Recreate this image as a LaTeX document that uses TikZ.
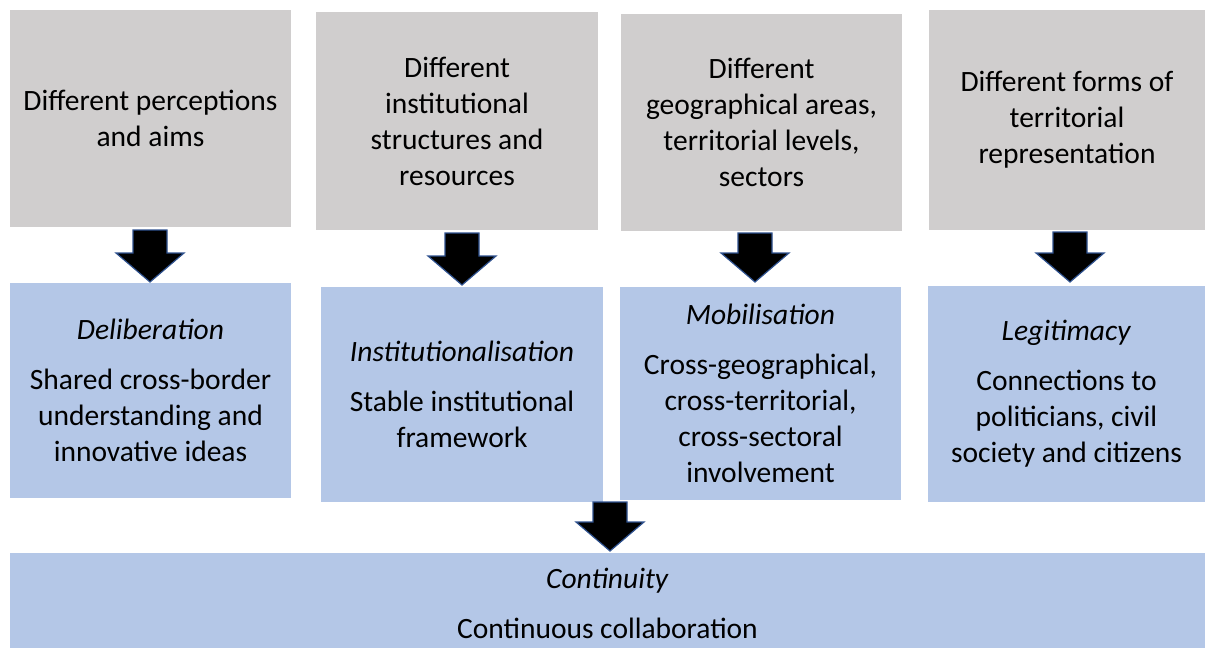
\documentclass[tikz,border=0pt]{standalone}
\usepackage{fontspec}
\setmainfont{Carlito}
\definecolor{boxgray}{HTML}{D0CECE}
\definecolor{boxblue}{HTML}{B4C7E7}
\definecolor{arrowline}{HTML}{2F528F}
\newcommand{\downarr}[3]{% x, ytop, ybottom
  \draw[arrowstyle] (#1-17,#2) -- (#1+17,#2) -- (#1+17,#3-29) -- (#1+34,#3-29) -- (#1,#3) -- (#1-34,#3-29) -- (#1-17,#3-29) -- cycle;}
\begin{document}
\begin{tikzpicture}[x=1pt,y=-1pt,
  box/.style={anchor=north west,inner sep=0pt,outer sep=0pt,align=center,
    font=\fontsize{29.5}{36}\selectfont},
  graybox/.style={box,fill=boxgray},
  bluebox/.style={box,fill=boxblue},
  arrowstyle/.style={fill=black,draw=arrowline,line width=1.2pt,line join=miter}]
\useasboundingbox (0,0) rectangle (1205,648);
% top row
\node[graybox,minimum width=281,minimum height=217] (g1) at (10,10) {Different perceptions\\and aims};
\node[graybox,minimum width=282,minimum height=218] (g2) at (316,12) {Different\\institutional\\structures and\\resources};
\node[graybox,minimum width=281,minimum height=217] (g3) at (621,14) {Different\\geographical areas,\\territorial levels,\\sectors};
\node[graybox,minimum width=276,minimum height=220] (g4) at (929,10) {Different forms of\\territorial\\representation};
% middle row
\node[bluebox,minimum width=281,minimum height=215] (b1) at (10,283) {\textit{Deliberation}\\[14pt]Shared cross-border\\understanding and\\innovative ideas};
\node[bluebox,minimum width=282,minimum height=215] (b2) at (321,287) {\textit{Institutionalisation}\\[14pt]Stable institutional\\framework};
\node[bluebox,minimum width=281,minimum height=213] (b3) at (620,287) {\textit{Mobilisation}\\[14pt]Cross-geographical,\\cross-territorial,\\cross-sectoral\\involvement};
\node[bluebox,minimum width=277,minimum height=216] (b4) at (928,286) {\textit{Legitimacy}\\[14pt]Connections to\\politicians, civil\\society and citizens};
% bottom
\node[bluebox,minimum width=1195,minimum height=100] (c) at (10,553) {\textit{Continuity}\\[14pt]Continuous collaboration};
% arrows
\downarr{150}{230}{282}
\downarr{462}{233}{285}
\downarr{755}{233}{282}
\downarr{1070}{232}{282}
\downarr{610}{502}{551}
\end{tikzpicture}
\end{document}
